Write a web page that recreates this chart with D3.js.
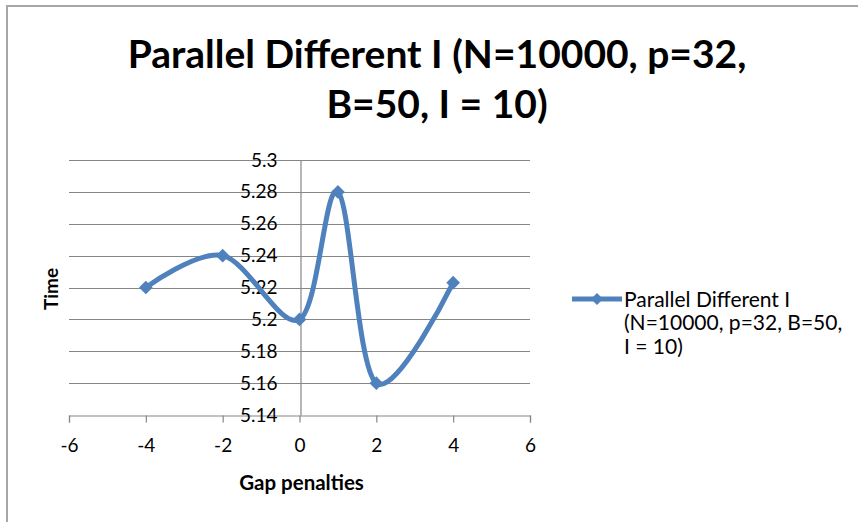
<!DOCTYPE html>
<html>
<head>
<meta charset="utf-8">
<script src="https://cdn.jsdelivr.net/npm/d3@7"></script>
<style>
  body { margin: 0; background: #fff; }
  svg text { font-family: Lato, "Open Sans", sans-serif; fill: #000; }
</style>
</head>
<body>
<script>
// data
var gapPenalties = [-4, -2, 0, 1, 2, 4];
var times = [5.22, 5.24, 5.2, 5.28, 5.16, 5.223];
var xTicks = [-6, -4, -2, 0, 2, 4, 6];
var yTicks = [5.14, 5.16, 5.18, 5.2, 5.22, 5.24, 5.26, 5.28, 5.3];
var titleLines = ["Parallel Different I (N=10000, p=32,", "B=50, I = 10)"];
var legendLines = ["Parallel Different I", "(N=10000, p=32, B=50,", "I = 10)"];

var W = 858, H = 522;
var blue = "#4f81bd";
var gridGray = "#868686";

var svg = d3.select("body").append("svg")
    .attr("width", W)
    .attr("height", H)

// chart frame (only top and left edges show)
svg.append("path")
    .attr("d", "M7,522 V6 H858")
    .attr("fill", "none")
    .attr("stroke", "#a6a6a6")
    .attr("stroke-width", 2)

svg.selectAll("text.title")
    .data(titleLines)
    .enter()
    .append("text")
    .attr("class", "title")
    .attr("x", 437)
    .attr("y", (d, i) => 68 + i * 50)
    .attr("text-anchor", "middle")
    .style("font-size", "39px")
    .style("font-weight", "bold")
    .text(d => d)

var x = d3.scaleLinear().domain([-6, 6]).range([69, 530])
var y = d3.scaleLinear().domain([5.14, 5.3]).range([415, 160])

var plot = svg.append("g")

// horizontal gridlines
plot.selectAll("line.grid")
    .data(yTicks.slice(1))
    .enter()
    .append("line")
    .attr("class", "grid")
    .attr("x1", x(-6))
    .attr("x2", x(6))
    .attr("y1", d => Math.round(y(d)) + 0.5)
    .attr("y2", d => Math.round(y(d)) + 0.5)
    .attr("stroke", gridGray)
    .attr("stroke-width", 1.2)

// x axis at the bottom
var xAxis = d3.axisBottom(x)
    .tickValues(xTicks)
    .tickSize(7)
    .tickPadding(16)
    .tickFormat(d3.format("d"))

var gx = plot.append("g")
    .attr("transform", "translate(0," + (Math.round(y(5.14)) + 0.5) + ")")
    .call(xAxis)
gx.select(".domain").attr("stroke", gridGray).attr("stroke-width", 1.2)
gx.selectAll(".tick line").attr("stroke", gridGray).attr("stroke-width", 1.2)
gx.selectAll(".tick text")
    .style("font-size", "19px")
    .attr("font-family", null)
    .text(d => d < 0 ? "-" + Math.abs(d) : d)

// y axis crosses at x = 0
var yAxis = d3.axisLeft(y)
    .tickValues(yTicks)
    .tickSize(0)
    .tickPadding(23)
    .tickFormat(d => String(+d.toFixed(2)))

var gy = plot.append("g")
    .attr("transform", "translate(" + (Math.round(x(0)) + 0.5) + ",0)")
    .call(yAxis)
gy.select(".domain").attr("stroke", gridGray).attr("stroke-width", 1.2)
gy.selectAll(".tick text")
    .style("font-size", "19px")
    .attr("font-family", null)

// axis titles
svg.append("text")
    .attr("x", x(0) + 2)
    .attr("y", 490)
    .attr("text-anchor", "middle")
    .style("font-size", "20.5px")
    .style("font-weight", "bold")
    .text("Gap penalties")

svg.append("text")
    .attr("transform", "translate(58,289) rotate(-90)")
    .attr("text-anchor", "middle")
    .style("font-size", "19px")
    .style("font-weight", "bold")
    .text("Time")

// series
var pts = gapPenalties.map((g, i) => [g, times[i]])

var line = d3.line()
    .x(d => x(d[0]))
    .y(d => y(d[1]))
    .curve(d3.curveCardinal.tension(0))

plot.append("path")
    .datum(pts)
    .attr("d", line)
    .attr("fill", "none")
    .attr("stroke", blue)
    .attr("stroke-width", 5)
    .attr("stroke-linejoin", "round")

var diamond = d3.symbol().type(d3.symbolDiamond2).size(120)

plot.selectAll("path.marker")
    .data(pts)
    .enter()
    .append("path")
    .attr("class", "marker")
    .attr("transform", d => "translate(" + x(d[0]) + "," + y(d[1]) + ")")
    .attr("d", diamond)
    .attr("fill", blue)

// legend
var legend = svg.append("g")
legend.append("line")
    .attr("x1", 572)
    .attr("x2", 622)
    .attr("y1", 299)
    .attr("y2", 299)
    .attr("stroke", blue)
    .attr("stroke-width", 5)
legend.append("path")
    .attr("transform", "translate(597,299)")
    .attr("d", d3.symbol().type(d3.symbolDiamond2).size(90))
    .attr("fill", blue)
legend.selectAll("text")
    .data(legendLines)
    .enter()
    .append("text")
    .attr("x", 624)
    .attr("y", (d, i) => 306.5 + i * 23.5)
    .style("font-size", "21px")
    .text(d => d)
</script>
</body>
</html>
